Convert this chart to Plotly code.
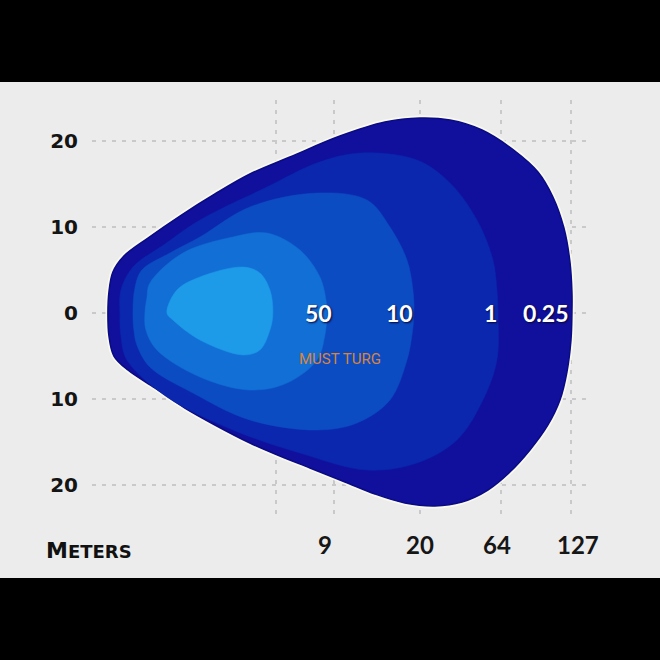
import plotly.graph_objects as go

# ---- data (metres; x = distance-like axis, y = beam width) ----
y_ticks = [-20, -10, 0, 10, 20]
y_tick_text = ["20", "10", "0", "10", "20"]
x_grid = [19.9, 26.6, 36.6, 46.0, 54.2]

dist_labels = ["9", "20", "64", "127"]
dist_label_x = [25.6, 36.6, 45.6, 55.0]

lux_labels = ["50", "10", "1", "0.25"]
lux_label_x = [24.8, 34.3, 44.8, 51.2]

# contour outlines (outer -> inner)
c025_x = [0.35, 0.47, 0.93, 2.21, 5.0, 8.72, 12.79, 16.86, 21.51, 27.33, 32.56, 36.63, 40.12, 43.84,
          47.67, 50.35, 52.09, 53.37, 54.07, 54.30, 54.30,
          54.19, 53.72, 52.91, 51.51, 49.42, 47.09, 44.53, 41.51, 38.37, 34.88, 31.40, 27.91, 23.84,
          20.35, 16.86, 12.79, 9.30, 5.81, 2.67, 1.05, 0.47, 0.35]
c025_y = [0, 2.44, 4.77, 6.63, 8.72, 11.28, 13.84, 16.16, 18.14, 20.58, 22.21, 22.67, 22.44, 21.28,
          18.84, 16.40, 13.49, 9.88, 5.93, 2.44, 0,
          -3.14, -6.86, -10.12, -13.02, -15.93, -18.49, -20.58, -21.98, -22.44, -22.09, -21.05, -19.65, -18.02,
          -16.63, -15.12, -13.02, -11.05, -8.72, -6.63, -5.0, -2.67, 0]

c1_x = [1.74, 1.86, 3.26, 6.98, 11.05, 18.84, 24.65, 29.65, 36.28, 40.12, 43.26, 45.12, 45.58, 45.70,
        45.58, 43.95, 40.93, 36.28, 30.47, 22.67, 14.88, 7.21, 2.56, 1.86, 1.74]
c1_y = [0, 2.67, 5.35, 8.02, 10.81, 14.65, 17.44, 18.60, 17.79, 15.12, 10.81, 6.16, 2.67, 0,
        -5.47, -10.12, -14.77, -17.44, -18.26, -16.28, -13.60, -9.77, -5.47, -2.67, 0]

c10_x = [3.26, 3.49, 4.30, 7.56, 11.05, 16.86, 24.65, 30.47, 33.14, 35.12, 35.81, 35.93,
         35.70, 35.12, 33.14, 29.30, 24.65, 16.86, 10.23, 5.23, 3.72, 3.37, 3.26]
c10_y = [0, 2.91, 5.0, 6.98, 8.84, 12.33, 13.95, 13.14, 10.0, 6.16, 2.67, 0,
         -2.56, -5.47, -10.12, -12.79, -13.60, -12.44, -9.30, -6.28, -3.72, -1.98, 0]

c50_x = [4.65, 4.88, 5.23, 9.07, 14.88, 18.84, 22.67, 25.0, 25.70, 25.81,
         25.58, 24.65, 21.16, 16.86, 11.05, 6.05, 4.77, 4.65]
c50_y = [0, 1.74, 3.49, 6.98, 8.84, 9.30, 7.33, 4.19, 1.51, 0,
         -2.56, -5.47, -8.14, -8.95, -7.44, -4.30, -1.98, 0]

core_x = [7.21, 8.37, 11.05, 16.05, 18.02, 19.19, 19.53, 19.19, 18.02, 16.05, 11.05, 7.91, 7.21]
core_y = [0, 2.67, 4.19, 5.35, 4.65, 2.67, 0, -1.98, -4.30, -4.88, -3.14, -0.81, 0]

contours = [
    (c025_x, c025_y, "#10109c"),
    (c1_x, c1_y, "#0b27ae"),
    (c10_x, c10_y, "#0c4cc2"),
    (c50_x, c50_y, "#126fd6"),
    (core_x, core_y, "#1d9ae8"),
]

fig = go.Figure()

# soft light halo round the outer contour
fig.add_trace(go.Scatter(x=c025_x, y=c025_y, mode="lines",
                         line=dict(shape="spline", smoothing=1.0, color="rgba(252,251,236,0.85)", width=5),
                         hoverinfo="skip", showlegend=False))

for i, (cx, cy, col) in enumerate(contours):
    fig.add_trace(go.Scatter(
        x=cx, y=cy, mode="lines", fill="toself", fillcolor=col,
        line=dict(shape="spline", smoothing=1.0,
                  color="#0a0a86" if i == 0 else col, width=1.5 if i == 0 else 0.5),
        hoverinfo="skip", showlegend=False))

# lux labels
for t, x in zip(lux_labels, lux_label_x):
    fig.add_annotation(x=x, y=0, xref="x", yref="y", text=t, showarrow=False,
                       font=dict(family="Lato", size=23, color="white", weight="bold",
                                 shadow="1px 1px 2px #05053a"))

# distance labels
for t, x in zip(dist_labels, dist_label_x):
    fig.add_annotation(x=x, y=-0.0595, xref="x", yref="paper", yanchor="middle", xanchor="center",
                       text=t, showarrow=False,
                       font=dict(family="Lato", size=24, color="#161616", weight="bold"))

fig.add_annotation(x=-0.0964, y=-0.0738, xref="paper", yref="paper", xanchor="left", yanchor="middle",
                   text="M<span style='font-size:18px'>ETERS</span>", showarrow=False,
                   font=dict(family="DejaVu Sans", size=22, color="#111111", weight="bold"))

# watermark
fig.add_annotation(x=27.3, y=-5.3, xref="x", yref="y", text="MUST TURG", showarrow=False,
                   font=dict(family="Liberation Sans Narrow, Roboto", size=15, color="#d8843f"))

# black bands top and bottom
fig.add_shape(type="rect", xref="paper", yref="paper", x0=-0.3, x1=1.3, y0=1.0429, y1=1.4,
              fillcolor="black", line=dict(width=0), layer="above")
fig.add_shape(type="rect", xref="paper", yref="paper", x0=-0.3, x1=1.3, y0=-0.5, y1=-0.1381,
              fillcolor="black", line=dict(width=0), layer="above")

fig.update_layout(
    width=660, height=660, autosize=False,
    margin=dict(l=92, r=70, t=100, b=140),
    paper_bgcolor="#ececec", plot_bgcolor="#ececec",
    showlegend=False,
)
fig.update_xaxes(range=[-1.5, 56.4], tickvals=x_grid, showticklabels=False, ticks="",
                 showgrid=True, gridcolor="#c9c9c9", gridwidth=1.5, griddash="4px,6px",
                 zeroline=False, showline=False, fixedrange=True)
fig.update_yaxes(range=[-24.07, 24.77], tickvals=y_ticks, ticktext=y_tick_text, ticks="",
                 ticklabelstandoff=13,
                 tickfont=dict(family="DejaVu Sans", size=20, color="#141414", weight="bold"),
                 showgrid=True, gridcolor="#c9c9c9", gridwidth=1.5, griddash="4px,6px",
                 zeroline=False, showline=False, fixedrange=True)

fig.write_html("out.html", config={"displayModeBar": False},
               post_script="document.body.style.margin='0';document.body.style.padding='0';")
